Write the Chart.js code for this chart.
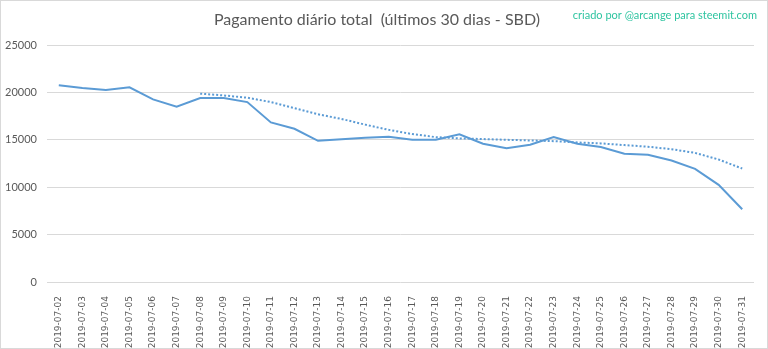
<!DOCTYPE html>
<html>
<head>
<meta charset="utf-8">
<script src="https://cdn.jsdelivr.net/npm/chart.js@4/dist/chart.umd.min.js"></script>
<style>
  html, body { margin: 0; padding: 0; background: #ffffff; }
  #wrap { width: 768px; height: 349px; }
</style>
</head>
<body>
<div id="wrap"><canvas id="chart" width="768" height="349"></canvas></div>
<script>
  const dates = [
    '2019-07-02', '2019-07-03', '2019-07-04', '2019-07-05', '2019-07-06', '2019-07-07',
    '2019-07-08', '2019-07-09', '2019-07-10', '2019-07-11', '2019-07-12', '2019-07-13',
    '2019-07-14', '2019-07-15', '2019-07-16', '2019-07-17', '2019-07-18', '2019-07-19',
    '2019-07-20', '2019-07-21', '2019-07-22', '2019-07-23', '2019-07-24', '2019-07-25',
    '2019-07-26', '2019-07-27', '2019-07-28', '2019-07-29', '2019-07-30', '2019-07-31'
  ];

  const dailyPayout = [
    20750, 20460, 20250, 20530, 19260, 18480,
    19400, 19400, 18980, 16830, 16160, 14890,
    15070, 15210, 15320, 15000, 15000, 15570,
    14580, 14120, 14470, 15280, 14580, 14230,
    13520, 13420, 12820, 11940, 10250, 7680
  ];

  // tendência pontilhada, começa em 07-08
  const trend = [
    null, null, null, null, null, null,
    19870, 19680, 19440, 18980, 18330, 17690,
    17200, 16600, 16050, 15600, 15280, 15150,
    15080, 15000, 14930, 14860, 14720, 14620,
    14440, 14270, 14010, 13620, 12920, 11970
  ];

  const yTicks = { min: 0, max: 25000, step: 5000 };

  const titleText = 'Pagamento diário total  (últimos 30 dias - SBD)';
  const creditText = 'criado por @arcange para steemit.com';

  const frame = {
    id: 'frame',
    beforeDraw(chart) {
      const ctx = chart.ctx;
      ctx.save();
      ctx.fillStyle = '#ffffff';
      ctx.fillRect(0, 0, chart.width, chart.height);
      ctx.strokeStyle = '#d9d9d9';
      ctx.lineWidth = 1;
      ctx.strokeRect(0.5, 0.5, chart.width - 1, chart.height - 1);
      ctx.restore();
    },
    afterDraw(chart) {
      const ctx = chart.ctx;
      ctx.save();
      ctx.font = '11px Lato, "Open Sans", sans-serif';
      ctx.fillStyle = '#2ec4a0';
      ctx.textAlign = 'right';
      ctx.textBaseline = 'middle';
      ctx.fillText(creditText, 757, 15);
      ctx.restore();
    }
  };

  new Chart(document.getElementById('chart'), {
    type: 'line',
    data: {
      labels: dates,
      datasets: [
        {
          label: 'Pagamento',
          data: dailyPayout,
          borderColor: '#5b9bd5',
          borderWidth: 2,
          pointRadius: 0,
          tension: 0,
          fill: false
        },
        {
          label: 'Tendência',
          data: trend,
          borderColor: '#5b9bd5',
          borderWidth: 2,
          borderDash: [2, 2],
          pointRadius: 0,
          tension: 0,
          fill: false
        }
      ]
    },
    options: {
      responsive: false,
      animation: false,
      layout: { padding: { left: 0, right: 14, top: 0, bottom: 0 } },
      plugins: {
        legend: { display: false },
        tooltip: { enabled: false },
        title: {
          display: true,
          text: titleText,
          color: '#595959',
          font: { family: 'Lato, "Open Sans", sans-serif', size: 16, weight: 'normal' },
          padding: { top: 10, bottom: 15.8 }
        }
      },
      scales: {
        x: {
          offset: true,
          grid: { display: false },
          border: { display: false },
          ticks: {
            color: '#595959',
            font: { family: '"DejaVu Sans", sans-serif', size: 9 },
            minRotation: 90,
            maxRotation: 90,
            autoSkip: false,
            padding: 6
          },
          afterFit(scale) { scale.height = 67; }
        },
        y: {
          min: yTicks.min,
          max: yTicks.max,
          grid: { color: '#d9d9d9', drawTicks: false },
          border: { display: false },
          ticks: {
            stepSize: yTicks.step,
            color: '#595959',
            font: { family: 'Lato, "Open Sans", sans-serif', size: 11 },
            padding: 10,
            callback: (v) => String(v)
          },
          afterFit(scale) { scale.width = 47; }
        }
      }
    },
    plugins: [frame]
  });
</script>
</body>
</html>
